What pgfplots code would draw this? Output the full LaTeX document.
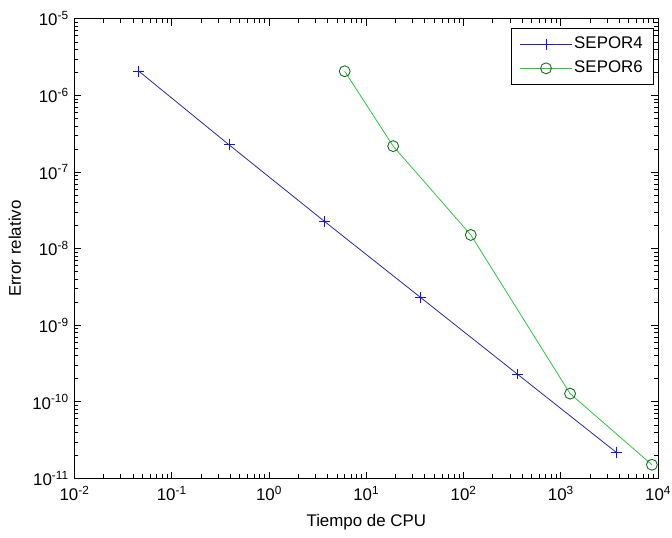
\documentclass[border=0pt]{standalone}
\usepackage{pgfplots}
\pgfplotsset{compat=1.18}
\usepackage{fontspec}
\setmainfont{Liberation Sans}
\definecolor{bline}{RGB}{40,40,170}
\definecolor{bmark}{RGB}{20,20,230}
\definecolor{gline}{RGB}{40,200,60}
\definecolor{gmark}{RGB}{20,110,30}
\begin{document}
\fontsize{17}{20}\selectfont
\begin{tikzpicture}
\begin{axis}[
  xmode=log, ymode=log,
  scale only axis,
  width=588pt, height=463pt,
  xmin=1e-2, xmax=1e4, ymin=1e-11, ymax=1e-5,
  xtick={1e-2,1e-1,1,1e1,1e2,1e3,1e4},
  xticklabels={10\textsuperscript{-2},10\textsuperscript{-1},10\textsuperscript{0},10\textsuperscript{1},10\textsuperscript{2},10\textsuperscript{3},10\textsuperscript{4}},
  ytick={1e-11,1e-10,1e-9,1e-8,1e-7,1e-6,1e-5},
  yticklabels={10\textsuperscript{-11},10\textsuperscript{-10},10\textsuperscript{-9},10\textsuperscript{-8},10\textsuperscript{-7},10\textsuperscript{-6},10\textsuperscript{-5}},
  tick align=inside,
  major tick length=7pt, minor tick length=4pt,
  tick style={black, line width=0.8pt},
  axis line style={black, line width=0.9pt},
  ticklabel style={font=\fontsize{17}{20}\selectfont},
  label style={font=\fontsize{17}{20}\selectfont},
  xlabel={Tiempo de CPU},
  ylabel={Error relativo},
  xlabel style={at={(axis description cs:0.5,-0.095)}, anchor=center},
  ylabel style={at={(axis description cs:-0.102,0.5)}, anchor=center},
  xticklabel style={yshift=-2pt},
  legend style={at={(0.993,0.981)}, anchor=north east, draw=black, line width=0.8pt,
    font=\fontsize{17}{20}\selectfont, inner xsep=9pt, inner ysep=7pt, row sep=6pt,
    legend cell align=left},
  legend image code/.code={\draw[mark repeat=2,mark phase=2] plot coordinates {(0pt,0pt)(26pt,0pt)(52pt,0pt)};},
]
\addplot[color=bline, line width=0.8pt, mark=+, mark size=5.5pt, mark options={color=bmark, line width=0.9pt}]
coordinates {(0.046,2.07e-6)(0.39,2.26e-7)(3.7,2.28e-8)(36.4,2.29e-9)(356,2.31e-10)(3700,2.2e-11)};
\addlegendentry{SEPOR4\hspace{20pt}}
\addplot[color=gline, line width=0.8pt, mark=o, mark size=5.5pt, mark options={color=gmark, line width=0.9pt}]
coordinates {(6.0,2.07e-6)(18.9,2.18e-7)(118.7,1.51e-8)(1245,1.28e-10)(8630,1.51e-11)};
\addlegendentry{SEPOR6\hspace{20pt}}
\end{axis}
\pgfresetboundingbox
\path ([shift={(-75pt,-59pt)}]current axis.south west) rectangle ([shift={(14pt,19pt)}]current axis.north east);
\end{tikzpicture}
\end{document}
